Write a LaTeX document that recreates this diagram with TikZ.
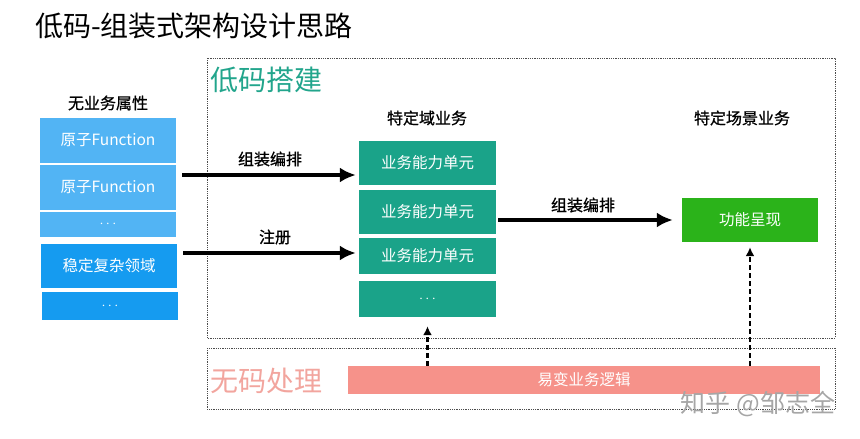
\documentclass[tikz,border=0pt]{standalone}
\usepackage{fontspec}
\setmainfont{Noto Sans CJK SC}
\newfontfamily\headfont[FakeBold=0.8]{Noto Sans CJK SC}
\usetikzlibrary{arrows.meta}

\definecolor{lightblue}{HTML}{52B4F4}
\definecolor{deepblue}{HTML}{159BF0}
\definecolor{teal}{HTML}{1AA389}
\definecolor{funcgreen}{HTML}{2BB31A}
\definecolor{salmon}{HTML}{F6928A}
\definecolor{salmontext}{HTML}{F2A59E}
\definecolor{tealtext}{HTML}{22A58C}

\begin{document}
\begin{tikzpicture}[x=1pt,y=-1pt,
   box/.style={rectangle, inner sep=0pt, text=white, minimum width=136pt,
               font=\fontsize{15.5pt}{18pt}\selectfont},
   head/.style={inner sep=0pt, font=\headfont\fontsize{16pt}{18pt}\selectfont},
   big/.style={inner sep=0pt, anchor=west, font=\fontsize{28pt}{32pt}\selectfont},
   bigarrow/.style={line width=3.2pt, -{Latex[length=16pt,width=15pt]}},
   dasharrow/.style={line width=2.2pt, dash pattern=on 5pt off 3pt,
                     -{Latex[length=9pt,width=9pt]}},
   frame/.style={black!70, densely dotted, line width=0.8pt}]
 \useasboundingbox (0,0) rectangle (860,439);

 \node [big] (title) at (35,26) {低码-组装式架构设计思路};

% frames

\draw [frame] (207,58) rectangle (835,338);
\draw [frame] (207,348) rectangle (835,409);
\node [big, text=tealtext] (lowcode) at (210,80) {低码搭建};
\node [big, text=salmontext] (nocode) at (210,381) {无码处理};

% no business attribute

\node [head] (h1) at (108,103) {无业务属性};
\node [box, fill=lightblue, minimum height=45pt] (fn1) at (108,140.5) {原子Function};
\node [box, fill=lightblue, minimum height=45pt] (fn2) at (108,187.5) {原子Function};
\node [box, fill=lightblue, minimum height=25pt] (fn3) at (108,224.5) {$\cdots$};
\node [box, fill=deepblue, minimum height=44pt] (dom1) at (109,266) {稳定复杂领域};
\node [box, fill=deepblue, minimum height=28pt] (dom2) at (110,306) {$\cdots$};

% domain units

\node [head] (h2) at (427,118) {特定域业务};
\node [box, fill=teal, minimum width=137pt, minimum height=44pt] (unit1) at (427.5,163) {业务能力单元};
\node [box, fill=teal, minimum width=137pt, minimum height=44pt] (unit2) at (427.5,212) {业务能力单元};
\node [box, fill=teal, minimum width=137pt, minimum height=36pt] (unit3) at (427.5,256) {业务能力单元};
\node [box, fill=teal, minimum width=137pt, minimum height=36pt] (unit4) at (427.5,299) {$\cdots$};

% scene

\node [head] (h3) at (742,118) {特定场景业务};
\node [box, fill=funcgreen, minimum height=44pt] (func) at (750,220) {功能呈现};

\node [box, fill=salmon, minimum width=472pt, minimum height=28pt] (logic) at (584,380) {易变业务逻辑\hspace{42pt}};

% arrows

\coordinate (in1) at (182,175);
\coordinate (in2) at (183,253);
\draw [bigarrow] (in1) -- ([xshift=-3pt]in1 -| unit1.west);
\draw [bigarrow] (in2) -- ([xshift=-3pt]in2 -| unit3.west);
\draw [bigarrow] ([xshift=2pt]unit2.east |- func.west) -- ([xshift=-9pt]func.west);
\node [head] (l1) at (270,159) {组装编排};
\node [head] (l2) at (275,237) {注册};
\node [head] (l3) at (583,205) {组装编排};

\draw [dasharrow] (unit4.south |- logic.north) -- ([yshift=-9pt]unit4.south);
\draw [dasharrow] (func.south |- logic.north) -- ([yshift=-5pt]func.south);

\node [text=black!35, font=\fontsize{25pt}{28pt}\selectfont] (mark) at (758,404) {知乎 @邹志全};

\end{tikzpicture}
\end{document}
